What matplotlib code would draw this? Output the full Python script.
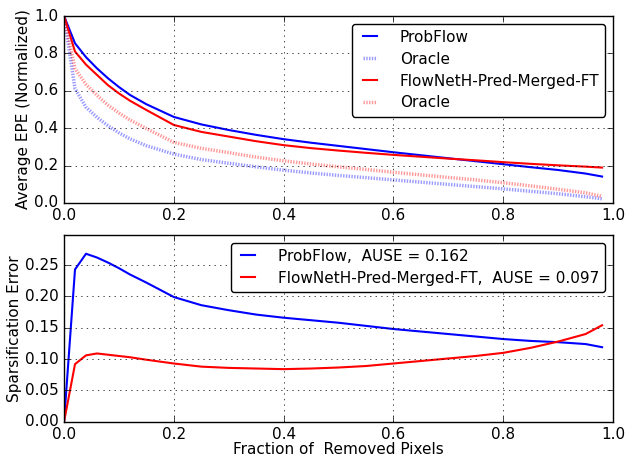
import matplotlib
matplotlib.use("Agg")
import matplotlib.pyplot as plt

plt.style.use("classic")
plt.rcParams["font.size"] = 11
plt.rcParams["font.family"] = ["DejaVu Sans"]

# fraction of removed pixels
frac = [0.0, 0.02, 0.04, 0.06, 0.08, 0.10, 0.12, 0.15, 0.20, 0.25, 0.30, 0.35,
        0.40, 0.45, 0.50, 0.55, 0.60, 0.65, 0.70, 0.75, 0.80, 0.85, 0.90, 0.95, 0.98]

# average EPE (normalized)
probflow_epe = [1.0, 0.854, 0.78, 0.72, 0.667, 0.62, 0.578, 0.528, 0.46, 0.42, 0.39, 0.364,
                0.341, 0.322, 0.305, 0.288, 0.271, 0.255, 0.239, 0.223, 0.207, 0.191, 0.176, 0.157, 0.141]
probflow_oracle = [1.0, 0.611, 0.512, 0.458, 0.413, 0.375, 0.343, 0.306, 0.261, 0.232, 0.212, 0.193,
                   0.175, 0.160, 0.147, 0.135, 0.123, 0.111, 0.099, 0.087, 0.075, 0.062, 0.049, 0.033, 0.022]
flownet_epe = [1.0, 0.81, 0.74, 0.685, 0.63, 0.586, 0.547, 0.497, 0.417, 0.38, 0.355, 0.33,
               0.309, 0.293, 0.28, 0.268, 0.257, 0.247, 0.237, 0.228, 0.218, 0.209, 0.201, 0.194, 0.189]
flownet_oracle = [1.0, 0.718, 0.634, 0.576, 0.523, 0.481, 0.444, 0.398, 0.324, 0.292, 0.269, 0.245,
                  0.225, 0.208, 0.193, 0.179, 0.164, 0.150, 0.136, 0.123, 0.108, 0.091, 0.073, 0.054, 0.035]

# sparsification error
probflow_err = [0.0, 0.243, 0.268, 0.262, 0.254, 0.245, 0.235, 0.222, 0.199, 0.186, 0.178, 0.171,
                0.166, 0.162, 0.158, 0.153, 0.148, 0.144, 0.140, 0.136, 0.132, 0.129, 0.127, 0.124, 0.119]
flownet_err = [0.0, 0.092, 0.106, 0.109, 0.107, 0.105, 0.103, 0.099, 0.093, 0.088, 0.086, 0.085,
               0.084, 0.085, 0.0866, 0.089, 0.093, 0.097, 0.101, 0.105, 0.110, 0.118, 0.128, 0.140, 0.154]

ause_probflow = 0.162
ause_flownet = 0.097

fig = plt.figure(figsize=(6.34, 4.58), dpi=100, facecolor="white")
ax1 = fig.add_axes([0.101, 0.557, 0.866, 0.408])
ax2 = fig.add_axes([0.101, 0.079, 0.866, 0.408])

ax1.plot(frac, probflow_epe, color="blue", lw=1.5, label="ProbFlow")
ax1.plot(frac, probflow_oracle, color="blue", lw=2.5, dashes=(1, 1), alpha=0.4, label="Oracle")
ax1.plot(frac, flownet_epe, color="red", lw=1.5, label="FlowNetH-Pred-Merged-FT")
ax1.plot(frac, flownet_oracle, color="red", lw=2.5, dashes=(1, 1), alpha=0.4, label="Oracle")
ax1.set_xlim(0, 1)
ax1.set_ylim(0, 1)
ax1.set_ylabel("Average EPE (Normalized)", labelpad=2)
ax1.grid(True)
ax1.legend(loc="upper right", fontsize=11, handlelength=1.5, handletextpad=1.2,
           labelspacing=0.45, fancybox=True)

ax2.plot(frac, probflow_err, color="blue", lw=1.5,
         label="ProbFlow,  AUSE = %.3f" % ause_probflow)
ax2.plot(frac, flownet_err, color="red", lw=1.5,
         label="FlowNetH-Pred-Merged-FT,  AUSE = %.3f" % ause_flownet)
ax2.set_xlim(0, 1)
ax2.set_ylim(0, 0.298)
ax2.set_yticks([0.0, 0.05, 0.10, 0.15, 0.20, 0.25])
ax2.set_yticklabels(["0.00", "0.05", "0.10", "0.15", "0.20", "0.25"])
ax2.set_xlabel("Fraction of  Removed Pixels", labelpad=0)
ax2.set_ylabel("Sparsification Error", labelpad=2)
ax2.grid(True)
ax2.legend(loc="upper right", fontsize=11, handlelength=1.5, handletextpad=1.2,
           labelspacing=0.45, fancybox=True)

fig.savefig("out.png", dpi=100, facecolor="white")
